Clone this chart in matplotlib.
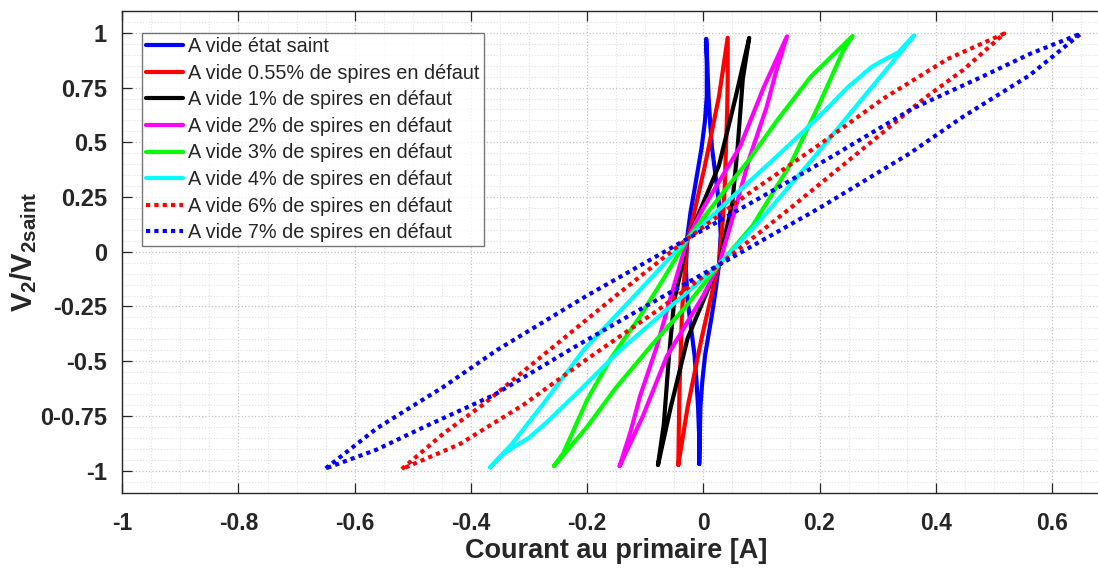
import matplotlib
matplotlib.use("Agg")
import matplotlib.pyplot as plt
from matplotlib.ticker import MultipleLocator, FixedLocator

plt.rcParams['font.family'] = ['Liberation Sans', 'DejaVu Sans']
plt.rcParams['mathtext.fontset'] = 'custom'
plt.rcParams['mathtext.rm'] = 'Liberation Sans'
plt.rcParams['mathtext.bf'] = 'Liberation Sans:bold'

# Cycles V2/V2saint = f(I primaire), parcourus en boucle fermée
# (bord gauche de bas en haut, puis bord droit de haut en bas)
sain_i = [-0.007, -0.007, -0.009, -0.012, -0.015, -0.021, -0.027, -0.030, -0.028, -0.022,
          -0.015, -0.009, -0.003, 0.003, 0.006, 0.006, 0.005,
          0.007, 0.009, 0.012, 0.015, 0.021, 0.027, 0.030, 0.027, 0.021,
          0.015, 0.009, 0.003, -0.002, -0.005, -0.006, -0.007]
sain_v = [-0.970, -0.85, -0.71, -0.58, -0.474, -0.35, -0.223, -0.08, 0.06, 0.18,
          0.286, 0.38, 0.474, 0.60, 0.71, 0.85, 0.973,
          0.85, 0.71, 0.58, 0.474, 0.35, 0.223, 0.08, -0.06, -0.18,
          -0.286, -0.38, -0.474, -0.60, -0.71, -0.85, -0.970]

d055_i = [-0.043, -0.042, -0.041, -0.039, -0.037, -0.034, -0.027, -0.020, 0.003, 0.027, 0.042,
          0.042, 0.041, 0.039, 0.037, 0.034, 0.027, 0.020, -0.003, -0.027, -0.043]
d055_v = [-0.974, -0.789, -0.63, -0.474, -0.30, -0.16, 0.06, 0.128, 0.396, 0.71, 0.978,
          0.789, 0.63, 0.474, 0.30, 0.16, -0.06, -0.128, -0.396, -0.71, -0.974]

d1_i = [-0.078, -0.068, -0.059, -0.050, -0.038, -0.027, -0.015, 0.027, 0.056, 0.079,
        0.068, 0.059, 0.050, 0.038, 0.027, 0.015, -0.027, -0.056, -0.078]
d1_v = [-0.974, -0.789, -0.474, -0.223, -0.08, 0.06, 0.128, 0.395, 0.71, 0.977,
        0.789, 0.474, 0.223, 0.08, -0.06, -0.128, -0.395, -0.71, -0.974]

d2_i = [-0.144, -0.125, -0.109, -0.080, -0.050, -0.027, 0.000, 0.063, 0.104, 0.144,
        0.125, 0.109, 0.080, 0.050, 0.027, 0.000, -0.063, -0.104, -0.144]
d2_v = [-0.979, -0.82, -0.661, -0.433, -0.15, 0.06, 0.20, 0.479, 0.751, 0.984,
        0.82, 0.661, 0.433, 0.15, -0.06, -0.20, -0.479, -0.751, -0.979]

d3_i = [-0.257, -0.241, -0.200, -0.160, -0.110, -0.070, -0.027, 0.028, 0.078, 0.127, 0.185, 0.257,
        0.241, 0.200, 0.150, 0.085, 0.027, -0.030, -0.090, -0.150, -0.200, -0.257]
d3_v = [-0.979, -0.92, -0.677, -0.49, -0.30, -0.13, 0.06, 0.25, 0.418, 0.60, 0.80, 0.986,
        0.92, 0.677, 0.40, 0.12, -0.06, -0.25, -0.43, -0.62, -0.80, -0.979]

d4_i = [-0.367, -0.330, -0.275, -0.206, -0.118, -0.027, 0.050, 0.132, 0.200, 0.250, 0.290,
        0.310, 0.335, 0.363,
        0.330, 0.276, 0.190, 0.100, 0.027, -0.052, -0.143, -0.218, -0.270, -0.300,
        -0.325, -0.345, -0.367]
d4_v = [-0.985, -0.88, -0.693, -0.449, -0.20, 0.06, 0.25, 0.449, 0.62, 0.755, 0.845,
        0.875, 0.91, 0.989,
        0.88, 0.707, 0.43, 0.15, -0.06, -0.24, -0.449, -0.647, -0.78, -0.85,
        -0.89, -0.925, -0.985]

d6_i = [-0.519, -0.447, -0.380, -0.270, -0.150, -0.027, 0.080, 0.200, 0.310, 0.420, 0.518,
        0.447, 0.380, 0.270, 0.150, 0.027, -0.080, -0.200, -0.310, -0.420, -0.519]
d6_v = [-0.993, -0.83, -0.70, -0.46, -0.20, 0.06, 0.27, 0.49, 0.70, 0.88, 0.997,
        0.83, 0.70, 0.46, 0.20, -0.06, -0.27, -0.49, -0.70, -0.88, -0.993]

d7_i = [-0.650, -0.562, -0.447, -0.355, -0.200, -0.027, 0.100, 0.220, 0.360, 0.480, 0.563, 0.650,
        0.562, 0.447, 0.355, 0.200, 0.027, -0.100, -0.220, -0.360, -0.480, -0.563, -0.650]
d7_v = [-0.990, -0.807, -0.617, -0.449, -0.20, 0.06, 0.25, 0.433, 0.654, 0.80, 0.905, 0.997,
        0.807, 0.617, 0.449, 0.20, -0.06, -0.25, -0.433, -0.654, -0.80, -0.905, -0.990]

labels = ['A vide état saint',
          'A vide 0.55% de spires en défaut',
          'A vide 1% de spires en défaut',
          'A vide 2% de spires en défaut',
          'A vide 3% de spires en défaut',
          'A vide 4% de spires en défaut',
          'A vide 6% de spires en défaut',
          'A vide 7% de spires en défaut']

x_ticks = [-1, -0.8, -0.6, -0.4, -0.2, 0, 0.2, 0.4, 0.6]
x_ticklabels = ['-1', '-0.8', '-0.6', '-0.4', '-0.2', '0', '0.2', '0.4', '0.6']
y_ticks = [-1, -0.75, -0.5, -0.25, 0, 0.25, 0.5, 0.75, 1]
y_ticklabels = ['-1', '0-0.75', '-0.5', '-0.25', '0', '0.25', '0.5', '0.75', '1']

series = [
    (sain_i, sain_v, (0, 0, 1), '-'),
    (d055_i, d055_v, (1, 0, 0), '-'),
    (d1_i, d1_v, (0, 0, 0), '-'),
    (d2_i, d2_v, (1, 0, 1), '-'),
    (d3_i, d3_v, (0, 1, 0), '-'),
    (d4_i, d4_v, (0, 1, 1), '-'),
    (d6_i, d6_v, (1, 0, 0), (0, (1, 1))),
    (d7_i, d7_v, (0, 0, 1), (0, (1, 1))),
]

W, H = 1098, 569
fig = plt.figure(figsize=(W / 100, H / 100), dpi=100)
left, right, top, bottom = 122.3, 1110.0, 11.0, 492.5
ax = fig.add_axes([left / W, 1 - bottom / H, (right - left) / W, (bottom - top) / H])

for (xi, yv, col, ls), lab in zip(series, labels):
    ax.plot(xi, yv, color=col, linestyle=ls, linewidth=3.0, label=lab,
            solid_joinstyle='round', solid_capstyle='round')

ax.set_xlim(-1, 0.7)
ax.set_ylim(-1.1, 1.1)

ax.xaxis.set_major_locator(FixedLocator(x_ticks))
ax.yaxis.set_major_locator(FixedLocator(y_ticks))
ax.xaxis.set_minor_locator(MultipleLocator(0.05))
ax.yaxis.set_minor_locator(MultipleLocator(0.05))
ax.set_xticklabels(x_ticklabels)
ax.set_yticklabels(y_ticklabels)

ax.grid(which='major', linestyle=':', color='#c4c4c4', linewidth=0.9)
ax.grid(which='minor', linestyle=':', color='#e2e2e2', linewidth=0.8)
ax.set_axisbelow(True)

dark = '#262626'
for sp in ax.spines.values():
    sp.set_color(dark)
    sp.set_linewidth(1.0)
ax.tick_params(which='major', direction='in', length=7, width=0.9, color=dark,
               top=True, right=True, labelcolor=dark)
ax.tick_params(which='minor', length=0)
ax.tick_params(axis='y', pad=11)
ax.tick_params(axis='x', pad=14)

for t in ax.get_yticklabels():
    t.set_fontsize(17)
    t.set_fontweight('bold')
for t in ax.get_xticklabels():
    t.set_fontsize(16.5)
    t.set_fontweight('bold')

ax.set_xlabel('Courant au primaire [A]', fontsize=19.5, fontweight='bold',
              color=dark, labelpad=2)
ax.set_ylabel(r'$\mathbf{V_2/V_{2saint}}$', fontsize=21, color=dark, labelpad=1)

leg = ax.legend(loc='upper left', bbox_to_anchor=(0.0196, 0.9537), borderaxespad=0,
                fontsize=14.3, frameon=True, fancybox=False, handlelength=1.9,
                handletextpad=0.25, borderpad=0.2, labelspacing=0.38)
leg.get_frame().set_edgecolor('#555555')
leg.get_frame().set_linewidth(1.0)
for t in leg.get_texts():
    t.set_color('#262626')

fig.savefig('out.png', dpi=100)
